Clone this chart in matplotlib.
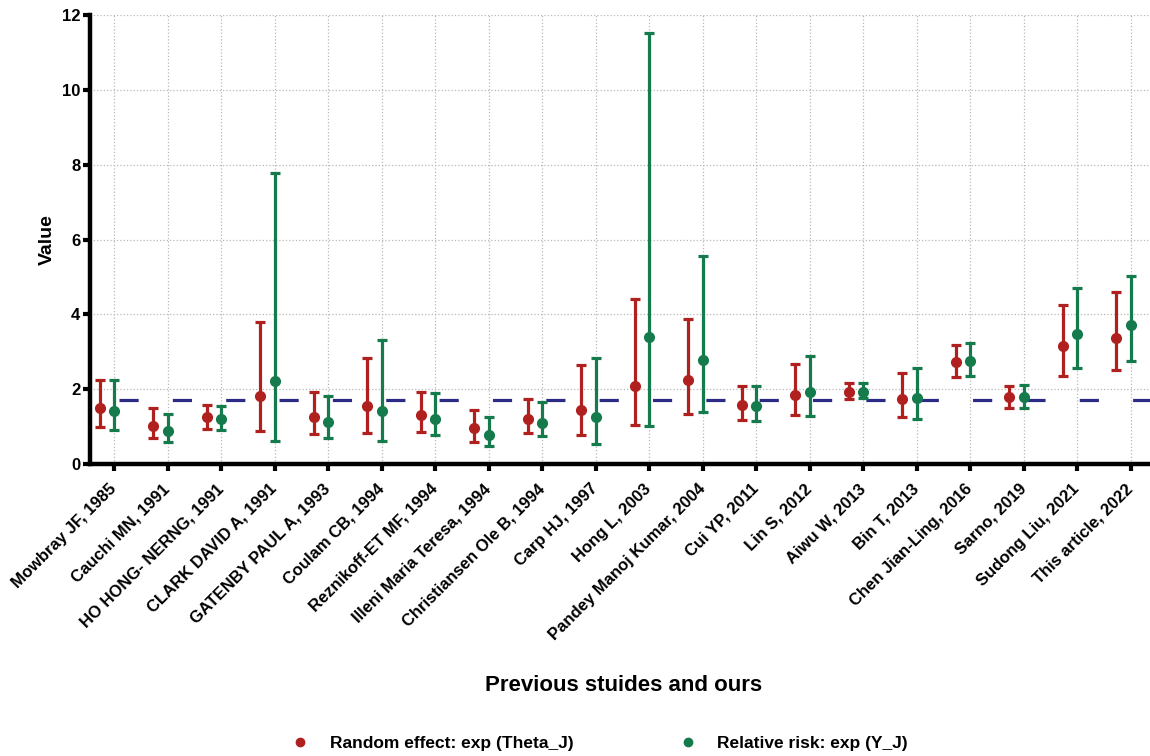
import numpy as np
import matplotlib
matplotlib.use('Agg')
import matplotlib.pyplot as plt
from matplotlib.lines import Line2D

studies = ['Mowbray JF, 1985', 'Cauchi MN, 1991', 'HO HONG- NERNG, 1991',
           'CLARK DAVID A, 1991', 'GATENBY PAUL A, 1993', 'Coulam CB, 1994',
           'Reznikoff-ET MF, 1994', 'Illeni Maria Teresa, 1994',
           'Christiansen Ole B, 1994', 'Carp HJ, 1997', 'Hong L, 2003',
           'Pandey Manoj Kumar, 2004', 'Cui YP, 2011', 'Lin S, 2012',
           'Aiwu W, 2013', 'Bin T, 2013', 'Chen Jian-Ling, 2016',
           'Sarno, 2019', 'Sudong Liu, 2021', 'This article, 2022']

# random effect exp(Theta_J): estimate, lower, upper
theta = [1.49, 1.02, 1.25, 1.82, 1.25, 1.56, 1.31, 0.97, 1.22, 1.46,
         2.08, 2.24, 1.58, 1.86, 1.93, 1.74, 2.72, 1.80, 3.16, 3.36]
theta_lo = [1.00, 0.69, 0.95, 0.88, 0.80, 0.84, 0.86, 0.60, 0.84, 0.78,
            1.04, 1.35, 1.18, 1.31, 1.74, 1.26, 2.33, 1.51, 2.36, 2.51]
theta_hi = [2.24, 1.50, 1.58, 3.79, 1.92, 2.84, 1.93, 1.46, 1.73, 2.66,
            4.41, 3.89, 2.08, 2.69, 2.17, 2.45, 3.18, 2.09, 4.25, 4.59]

# relative risk exp(Y_J): estimate, lower, upper
rr = [1.43, 0.88, 1.20, 2.22, 1.13, 1.43, 1.20, 0.78, 1.11, 1.26,
      3.40, 2.78, 1.56, 1.92, 1.93, 1.76, 2.76, 1.80, 3.47, 3.71]
rr_lo = [0.91, 0.58, 0.91, 0.61, 0.70, 0.61, 0.78, 0.48, 0.75, 0.55,
         1.02, 1.39, 1.16, 1.28, 1.76, 1.22, 2.36, 1.51, 2.57, 2.75]
rr_hi = [2.26, 1.34, 1.55, 7.79, 1.82, 3.31, 1.89, 1.26, 1.65, 2.85,
         11.51, 5.56, 2.09, 2.89, 2.16, 2.56, 3.23, 2.11, 4.72, 5.02]

pooled = 1.71

red = '#b0201e'
green = '#157a4c'
navy = '#2b2a85'

plt.rcParams['font.family'] = ['Liberation Sans', 'DejaVu Sans']
plt.rcParams['font.weight'] = 'bold'

fig = plt.figure(figsize=(11.5, 7.56), dpi=100)
ax = fig.add_axes([0.0783, 0.386, 0.9217, 0.594])

x = np.arange(len(studies))
off = 0.27


def draw(xs, est, lo, hi, color):
    est = np.array(est)
    err = [est - np.array(lo), np.array(hi) - est]
    ax.errorbar(xs, est, yerr=err, fmt='o', color=color, ecolor=color,
                markersize=7, elinewidth=2.3, capsize=3.8, capthick=2.3, zorder=3)


# pooled estimate as a dashed line running under the bars
ax.plot([0.1, 19.6], [pooled, pooled], color=navy, lw=2.3,
        dashes=(6.0, 10.7), zorder=2)

draw(x - off, theta, theta_lo, theta_hi, red)
draw(x, rr, rr_lo, rr_hi, green)

ax.set_xlim(-0.45, 19.36)
ax.set_ylim(0, 12)
ax.set_yticks(range(0, 13, 2))
ax.set_xticks(x)
ax.set_xticklabels(studies, rotation=45, ha='right', va='center',
                   rotation_mode='anchor', fontsize=12, fontweight='bold')
ax.tick_params(axis='y', labelsize=12, width=3, length=5, pad=2)
ax.tick_params(axis='x', width=3, length=5, pad=11)

ax.grid(True, color='#b8b8b8', linestyle=':', linewidth=0.9)
ax.set_axisbelow(True)
for s in ['top', 'right']:
    ax.spines[s].set_visible(False)
for s in ['left', 'bottom']:
    ax.spines[s].set_linewidth(3.2)

ax.set_ylabel('Value', fontsize=14, fontweight='bold', labelpad=4)
fig.text(0.542, 0.093, 'Previous stuides and ours', ha='center', va='center',
         fontsize=16, fontweight='bold')

handles = [Line2D([], [], marker='o', color=red, linestyle='none', markersize=6),
           Line2D([], [], marker='o', color=green, linestyle='none', markersize=6)]
fig.legend(handles, ['Random effect: exp (Theta_J)', 'Relative risk: exp (Y_J)'],
           loc='center', bbox_to_anchor=(0.5176, 0.016), ncol=2, frameon=False,
           fontsize=12.5, handletextpad=0.7, columnspacing=5.6)

fig.savefig('out.png', dpi=100)
